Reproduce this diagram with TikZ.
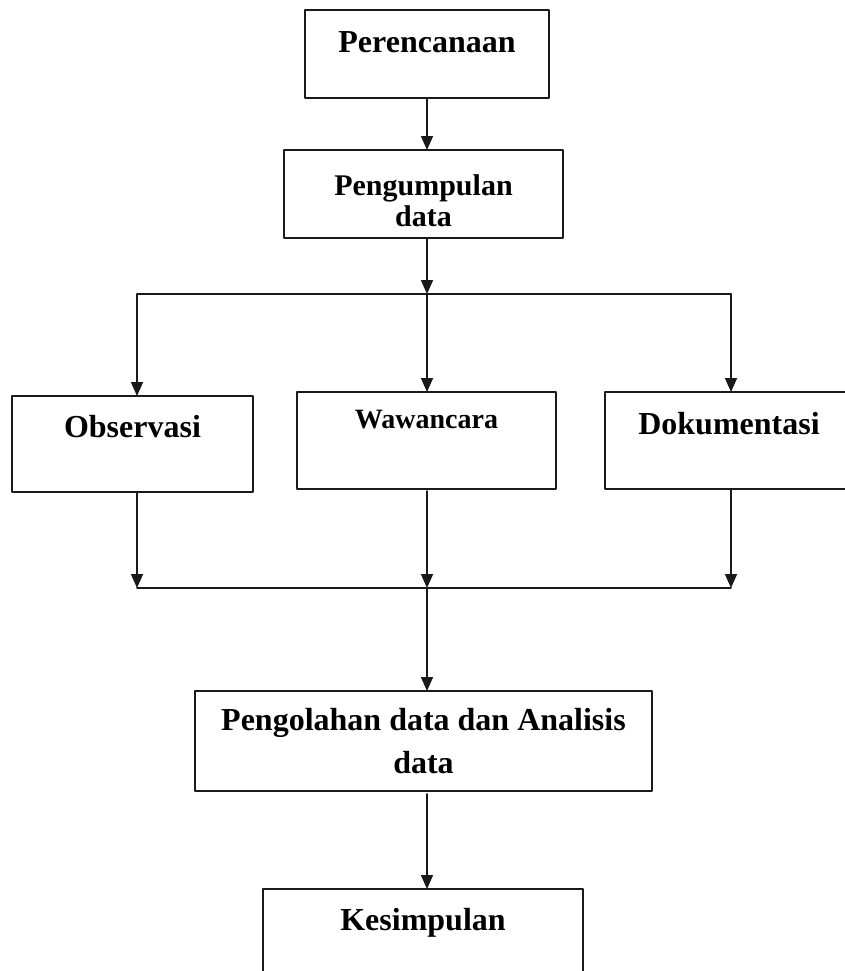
\documentclass[tikz,border=0pt]{standalone}
\usepackage{fontspec}
\setmainfont{Liberation Serif}
\usetikzlibrary{arrows.meta,positioning}
\definecolor{ink}{HTML}{1A1A1A}

\begin{document}
\begin{tikzpicture}[
  x=1pt, y=-1pt, line cap=round, line join=round,
  stage/.style={draw=ink, line width=1.3pt, inner sep=0pt, outer sep=0pt,
    anchor=north west, align=center, font=\bfseries\fontsize{32}{43}\selectfont},
  flow/.style={ink, line width=1.6pt, -{Triangle[length=14pt,width=12pt]}},
  joint/.style={ink, line width=1.6pt}]

\path[use as bounding box, clip] (0,0) rectangle (845,971);

% ---- stages -------------------------------------------------------------
\node[stage, minimum width=244pt, text height=43pt, text depth=45pt]
  (plan) at (305,10) {Perencanaan};
\node[stage, minimum width=279pt, minimum height=88pt,
  font=\bfseries\fontsize{30}{31}\selectfont]
  (collect) at (284,150) {\rule{0pt}{35pt}Pengumpulan\\data};

\node[stage, minimum width=241pt, text height=41pt, text depth=55pt]
  (obs) at (12,396) {Observasi};
\node[stage, minimum width=259pt, text height=36pt, text depth=61pt,
  font=\bfseries\fontsize{28}{34}\selectfont]
  (interview) at (297,392) {Wawancara};
\node[stage, minimum width=248pt, text height=42pt, text depth=55pt]
  (docs) at (605,392) {Dokumentasi};

\node[stage, minimum width=457pt, minimum height=100pt]
  (analysis) at (195,691) {Pengolahan data dan Analisis\\data};
\node[stage, minimum width=320pt, text height=41pt, text depth=70pt]
  (concl) at (263,889) {Kesimpulan};

% ---- split and merge points -------------------------------------------
\coordinate (split)  at (427,294);
\coordinate (splitL) at (137,294);
\coordinate (splitR) at (731,294);
\coordinate (merge)  at (427,588);
\coordinate (mergeL) at (137,588);
\coordinate (mergeR) at (731,588);

% ---- connectors -------------------------------------------------------
\draw[flow] (split |- plan.south) -- (split |- collect.north);
\draw[flow] (split |- collect.south) -- (split);
\draw[joint] (splitL) -- (splitR);
\draw[flow] (splitL) -- (splitL |- obs.north);
\draw[flow] (split) -- (split |- interview.north);
\draw[flow] (splitR) -- (splitR |- docs.north);

\draw[flow] (mergeL |- obs.south) -- (mergeL);
\draw[flow] ([yshift=-2pt]merge |- interview.south) -- (merge);
\draw[flow] (mergeR |- docs.south) -- (mergeR);
\draw[joint] (mergeL) -- (mergeR);

\draw[flow] (merge) -- (merge |- analysis.north);
\draw[flow] ([yshift=-3pt]merge |- analysis.south) -- (merge |- concl.north);

\end{tikzpicture}
\end{document}
